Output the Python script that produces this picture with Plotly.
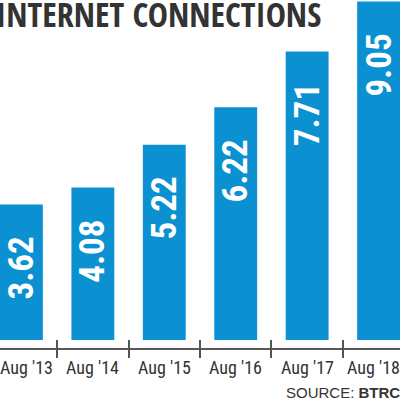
import plotly.graph_objects as go

categories = ["Aug '13", "Aug '14", "Aug '15", "Aug '16", "Aug '17", "Aug '18"]
values = [3.62, 4.08, 5.22, 6.22, 7.71, 9.05]
value_labels = ["3.62", "4.08", "5.22", "6.22", "7.71", "9.05"]

BLUE = "#0b91d1"
DARK = "#333333"
COND_BOLD = "'Open Sans Condensed', 'Roboto Condensed', sans-serif"
COND = "'Roboto Condensed', sans-serif"

fig = go.Figure()
fig.add_trace(go.Bar(x=categories, y=values, marker=dict(color=BLUE, line=dict(width=0)),
                     width=0.6, hoverinfo="skip", showlegend=False))
fig.add_trace(go.Scatter(x=categories, y=values, xaxis="x2", mode="markers",
                         marker=dict(opacity=0), hoverinfo="skip", showlegend=False))

# value labels inside bars
for c, v, t in zip(categories, values, value_labels):
    fig.add_annotation(x=c, y=v, text="<b>%s</b>" % t, textangle=-90, showarrow=False,
                       xanchor="center", yanchor="top", yshift=-30,
                       font=dict(family=COND, size=35, color="white"))

# category labels (edge labels nudged inwards to stay on the canvas)
n = len(categories)
for i, c in enumerate(categories):
    shift = 5 if i == 0 else (-5 if i == n - 1 else 0)
    fig.add_annotation(x=c, xref="x", yref="paper", y=0, text=c, showarrow=False,
                       xanchor="center", yanchor="middle", yshift=-19, xshift=shift,
                       font=dict(family=COND, size=18, color=DARK))

fig.add_annotation(xref="paper", yref="paper", x=0.395, y=1, xanchor="center", yanchor="top",
                   text="<b>INTERNET CONNECTIONS</b>", showarrow=False, yshift=11,
                   font=dict(family=COND_BOLD, size=34, color=DARK))
fig.add_annotation(xref="paper", yref="paper", x=1, y=-0.126, xanchor="right", yanchor="middle",
                   text="SOURCE: <b>BTRC</b>", showarrow=False, xshift=2, yshift=-1,
                   font=dict(family="'Liberation Sans', Arial, sans-serif", size=15, color=DARK))

fig.update_layout(
    width=400, height=400,
    margin=dict(l=0, r=0, t=0, b=52, autoexpand=False),
    paper_bgcolor="white", plot_bgcolor="white",
    xaxis=dict(type="category", categoryorder="array", categoryarray=categories,
               range=[-0.3, 5.3], showline=True, linecolor="#555555", linewidth=1.5,
               ticks="outside", ticklen=8, tickwidth=1.5, tickcolor="#555555",
               tickson="boundaries", showgrid=False, zeroline=False, automargin=False,
               showticklabels=False),
    xaxis2=dict(type="category", categoryorder="array", categoryarray=categories,
                range=[-0.3, 5.3], overlaying="x", anchor="y", side="bottom",
                ticks="inside", ticklen=8, tickwidth=1.5, tickcolor="#555555",
                tickson="boundaries", showticklabels=False, showgrid=False,
                zeroline=False, showline=False, automargin=False),
    yaxis=dict(visible=False, range=[-0.214, 9.09], showgrid=False, zeroline=False,
               automargin=False),
)

fig.write_html("out.html", config={"displayModeBar": False},
               post_script="document.body.style.margin='0';")
